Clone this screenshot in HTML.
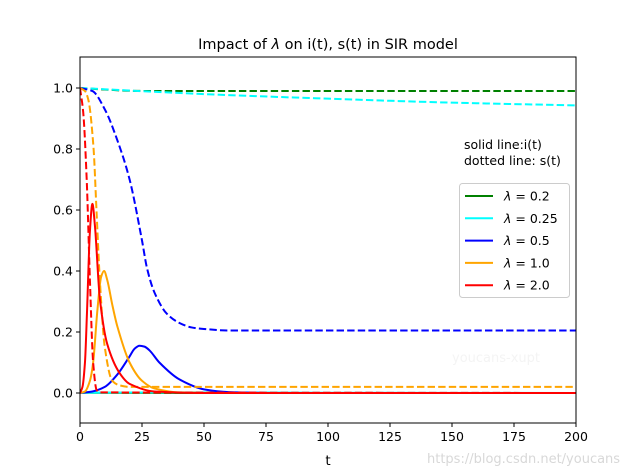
<!DOCTYPE html>
<html><head><meta charset="utf-8"><style>
body{margin:0;background:#fff;}
svg{display:block;font-family:"DejaVu Sans","Liberation Sans",sans-serif;}
</style></head><body>
<svg id="chart" width="640" height="476" viewBox="0 0 640 476">
<rect width="640" height="476" fill="#fff"/>
<text x="328" y="49" font-size="14.5" text-anchor="middle">Impact of <tspan font-style="italic">λ</tspan> on i(t), s(t) in SIR model</text>
<g id="plot"></g>
<text x="452" y="362" font-size="13" fill="#f4f4f4">youcans-xupt</text>
<text x="464" y="149" font-size="12.5">solid line:i(t)</text>
<text x="464" y="165" font-size="12.5">dotted line: s(t)</text>
<text x="328" y="465" font-size="13.5" text-anchor="middle">t</text>
<text x="427" y="463" font-size="13" fill="#d8d8d8">https://blog.csdn.net/youcans</text>
</svg>
<script>
const lambdas=["0.2","0.25","0.5","1.0","2.0"];
const colors=["green","cyan","blue","orange","red"];
const iT=[[0,50,100,200],[0,50,100,200],[0,5,10,15,20,22,24,26,28,32,40,50,60,80,200],[0,2,4,5.3,7,8.5,9.7,11,13,15,20,25,30,40,60,200],[0,1,2,2.8,4,5,6,8,11,16,20,30,50,200]];
const iV=[[0.001,0.0,0.0,0.0],[0.001,0.002,0.001,0.0],[0,0.005,0.02,0.06,0.12,0.145,0.155,0.152,0.14,0.1,0.045,0.012,0.003,0,0],[0,0.005,0.04,0.1,0.27,0.38,0.40,0.37,0.29,0.22,0.1,0.04,0.015,0.002,0,0],[0,0.02,0.1,0.26,0.53,0.62,0.55,0.31,0.16,0.065,0.03,0.005,0,0]];
const sT=[[0,10,20,30,200],[0,50,100,150,200],[0,5,10,15,20,25,27,30,35,40,45,50,60,200],[0,2,3.4,5.4,6.7,8,10,13,16,20,30,200],[0,1.3,2.7,4,5.3,6.7,8,200]];
const sV=[[1,0.995,0.991,0.99,0.99],[1,0.98,0.965,0.952,0.943],[1,0.99,0.93,0.83,0.70,0.5,0.41,0.33,0.26,0.23,0.215,0.21,0.205,0.205],[1,0.99,0.96,0.81,0.59,0.37,0.15,0.04,0.025,0.02,0.02,0.02],[1,0.92,0.70,0.37,0.1,0.01,0.002,0]];
const xTicks=[0,25,50,75,100,125,150,175,200];
const yTicks=[0,0.2,0.4,0.6,0.8,1.0];
const L=80,R=576,T=57,B=423;
const xs=t=>L+t/200*(R-L);
const ys=v=>393-v*305;
const NS="http://www.w3.org/2000/svg";
const g=document.getElementById('plot');
function mk(tag,a){const e=document.createElementNS(NS,tag);for(const k in a)e.setAttribute(k,a[k]);return e;}
const clip=mk('clipPath',{id:'cp'});clip.appendChild(mk('rect',{x:L,y:T,width:R-L,height:B-T}));g.appendChild(clip);
const lines=mk('g',{'clip-path':'url(#cp)'});g.appendChild(lines);
function path(T_,V){
  const X=T_.map(xs),Y=V.map(ys),n=X.length;
  const d=[],m=[];
  for(let i=0;i<n-1;i++)d.push((Y[i+1]-Y[i])/(X[i+1]-X[i]));
  for(let i=0;i<n;i++){
    if(i==0)m.push(d[0]);else if(i==n-1)m.push(d[n-2]);
    else m.push(d[i-1]*d[i]<=0?0:2/(1/d[i-1]+1/d[i]));
  }
  let s='M'+X[0].toFixed(2)+','+Y[0].toFixed(2);
  for(let i=0;i<n-1;i++){
    const h=(X[i+1]-X[i])/3;
    s+='C'+(X[i]+h).toFixed(2)+','+(Y[i]+m[i]*h).toFixed(2)+' '+(X[i+1]-h).toFixed(2)+','+(Y[i+1]-m[i+1]*h).toFixed(2)+' '+X[i+1].toFixed(2)+','+Y[i+1].toFixed(2);
  }
  return s;
}
for(let k=0;k<lambdas.length;k++){
  const pi=mk('path',{d:path(iT[k],iV[k]),fill:'none',stroke:colors[k],'stroke-width':2,'stroke-linejoin':'round'});
  
  
  lines.appendChild(pi);
  const ps=mk('path',{d:path(sT[k],sV[k]),fill:'none',stroke:colors[k],'stroke-width':2,'stroke-dasharray':'7.4,3.2'});
  
  
  lines.appendChild(ps);
}
const frame=mk('rect',{x:L,y:T,width:R-L,height:B-T,fill:'none',stroke:'#000','stroke-width':1});


g.appendChild(frame);
xTicks.forEach(t=>{
  const x=xs(t);
  g.appendChild(mk('line',{x1:x,x2:x,y1:B,y2:B+4,stroke:'#000'}));
  const tx=mk('text',{x:x,y:B+18,'font-size':12.5,'text-anchor':'middle'});tx.textContent=t;
  
  
  g.appendChild(tx);
});
yTicks.forEach(v=>{
  const y=ys(v);
  g.appendChild(mk('line',{x1:L-4,x2:L,y1:y,y2:y,stroke:'#000'}));
  const tx=mk('text',{x:L-7,y:y+4.5,'font-size':12.5,'text-anchor':'end'});tx.textContent=v.toFixed(1);
  
  
  g.appendChild(tx);
});
const lg=mk('g',{});


g.appendChild(lg);
lg.appendChild(mk('rect',{x:459.5,y:183.5,width:110,height:114,rx:3,fill:'#fff',stroke:'#ccc'}));
lambdas.forEach((l,k)=>{
  const y=196+k*22.3;
  const en=mk('g',{});
  
  
  en.appendChild(mk('line',{x1:465,x2:493,y1:y,y2:y,stroke:colors[k],'stroke-width':2}));
  const tx=mk('text',{x:504,y:y+4.5,'font-size':12.5});
  tx.innerHTML='<tspan font-style="italic">λ</tspan> = '+l;
  en.appendChild(tx);
  lg.appendChild(en);
});
</script>
</body></html>
